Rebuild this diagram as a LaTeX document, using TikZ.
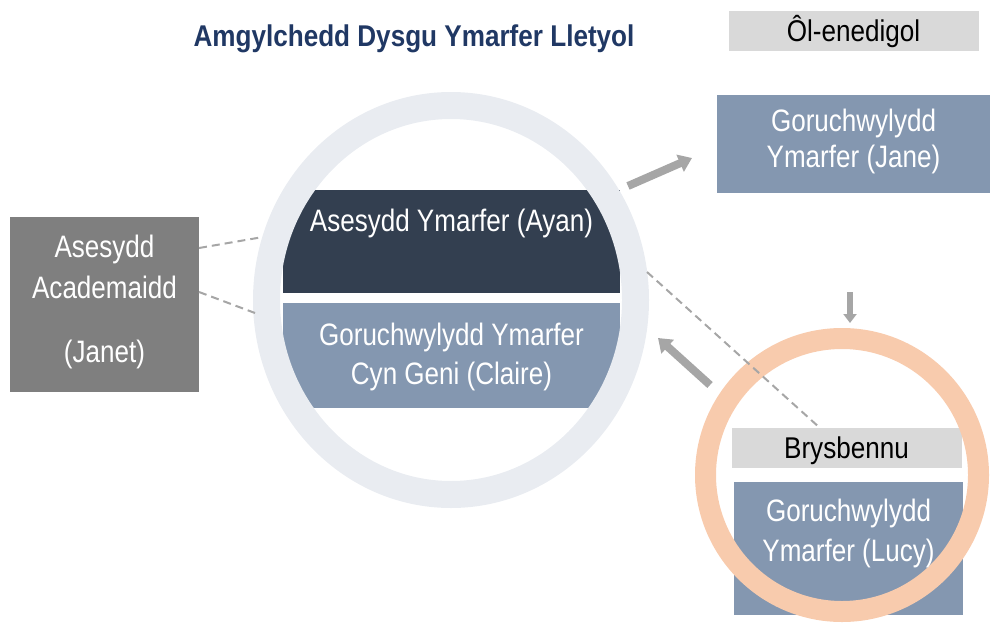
\documentclass[tikz,border=0pt]{standalone}
\usepackage{fontspec}
\setmainfont{Liberation Sans}
\newfontfamily\boxfont[FakeStretch=0.84]{Liberation Sans}
\newfontfamily\lblfont[FakeStretch=0.87]{Liberation Sans}
\newfontfamily\ttlfont[FakeStretch=0.87]{Liberation Sans}
\usetikzlibrary{arrows.meta}
\definecolor{darkbox}{HTML}{333F50}
\definecolor{bluebox}{HTML}{8497B0}
\definecolor{ringgray}{HTML}{E9ECF1}
\definecolor{janetgray}{HTML}{7F7F7F}
\definecolor{lblgray}{HTML}{D9D9D9}
\definecolor{orangering}{HTML}{F8CBAD}
\definecolor{arrowgray}{HTML}{A6A6A6}
\definecolor{dashgray}{HTML}{A6A6A6}
\definecolor{titleblue}{HTML}{203864}
\begin{document}
\begin{tikzpicture}[x=1pt,y=-1pt,
  boxr/.style={rectangle, inner sep=0pt, outer sep=0pt, draw=none},
  wtxt/.style={font=\boxfont\fontsize{31}{37}\selectfont, text=white, anchor=base, inner sep=0pt},
  lbltxt/.style={font=\lblfont\fontsize{30}{36}\selectfont, text=black, anchor=base, inner sep=0pt},
  ttltxt/.style={font=\ttlfont\bfseries\fontsize{30}{36}\selectfont, text=titleblue, anchor=base, inner sep=0pt},
  dashline/.style={draw=dashgray, line width=2pt, dash pattern=on 8pt off 5pt},
  blockarrow/.style={draw=arrowgray, line width=8pt, -{Triangle[width=18pt,length=13pt]}},
  smallarrow/.style={draw=arrowgray, line width=6pt, -{Triangle[width=13pt,length=9pt]}}
]
\useasboundingbox (0,0) rectangle (992,626);

% title
\node[ttltxt] (title) at (414,47) {Amgylchedd Dysgu Ymarfer Lletyol};

% central boxes and ring
\node[boxr, fill=darkbox, minimum width=337pt, minimum height=103pt] (ayanbox) at (451.5,241.5) {};
\node[boxr, fill=bluebox, minimum width=337pt, minimum height=105pt] (clairebox) at (451.5,355.5) {};
\draw[draw=ringgray, line width=27pt] (451,300) ellipse [x radius=184.5pt, y radius=194.5pt];
\node[wtxt] (ayan) at (451.5,231) {Asesydd Ymarfer (Ayan)};
\node[wtxt] (claire1) at (451.5,345) {Goruchwylydd Ymarfer};
\node[wtxt] (claire2) at (451.5,384) {Cyn Geni (Claire)};

% left box
\node[boxr, fill=janetgray, minimum width=189pt, minimum height=175pt] (janetbox) at (104.5,304.5) {};
\node[wtxt] (janet1) at (104.5,257) {Asesydd};
\node[wtxt] (janet2) at (104.5,298.5) {Academaidd};
\node[wtxt] (janet3) at (104.5,362.5) {(Janet)};

% top right
\node[boxr, fill=lblgray, minimum width=250pt, minimum height=40pt] (olbox) at (854,31) {};
\node[lbltxt] (ol) at (853.5,41.5) {Ôl-enedigol};
\node[boxr, fill=bluebox, minimum width=273pt, minimum height=98pt] (janebox) at (853.5,144) {};
\node[wtxt] (jane1) at (853.5,131) {Goruchwylydd};
\node[wtxt] (jane2) at (853.5,167.5) {Ymarfer (Jane)};

% bottom right
\node[boxr, fill=lblgray, minimum width=230pt, minimum height=40pt] (brysbox) at (847,448) {};
\node[lbltxt] (brys) at (846.5,458) {Brysbennu};
\node[boxr, fill=bluebox, minimum width=229pt, minimum height=133pt] (lucybox) at (848.5,548.5) {};
\draw[draw=orangering, line width=21pt] (842,475) circle [radius=136.5pt];
\node[wtxt] (lucy1) at (848.5,521.5) {Goruchwylydd};
\node[wtxt] (lucy2) at (848.5,561.5) {Ymarfer (Lucy)};

% dashed connectors
\coordinate (d1e) at (263,237);
\coordinate (d2e) at (255,313);
\coordinate (d3s) at (647,272);
\draw[dashline] ([yshift=56.5pt]janetbox.east) -- (d1e);
\draw[dashline] ([yshift=12.5pt]janetbox.east) -- (d2e);
\draw[dashline] (d3s) -- ([xshift=-27pt]brysbox.north);

% block arrows
\coordinate (a1s) at (628,186);
\coordinate (a1e) at (692,158);
\coordinate (a2s) at (710,385);
\coordinate (a2e) at (658,338);
\coordinate (a3s) at (850,292);
\draw[blockarrow] (a1s) -- (a1e);
\draw[blockarrow] (a2s) -- (a2e);
\draw[smallarrow] (a3s) -- (a3s |- 0,323);
\end{tikzpicture}
\end{document}
